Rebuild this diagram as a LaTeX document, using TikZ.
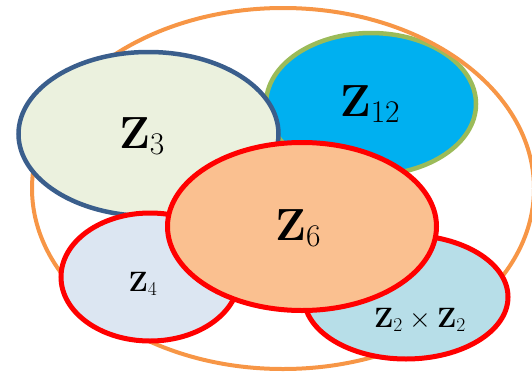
\RequirePackage{fix-cm}
\documentclass[tikz,border=0pt]{standalone}
\usetikzlibrary{shapes.geometric}
\definecolor{outorange}{HTML}{F79646}
\definecolor{zthreefill}{HTML}{EBF1DE}
\definecolor{zthreeline}{HTML}{3A5E8C}
\definecolor{ztwelvefill}{HTML}{00B0F0}
\definecolor{ztwelveline}{HTML}{9BBB59}
\definecolor{zfourfill}{HTML}{DCE6F2}
\definecolor{zkleinfill}{HTML}{B7DEE8}
\definecolor{zsixfill}{HTML}{FAC090}
\definecolor{zred}{HTML}{FF0000}
\tikzset{
  blob/.style={ellipse, inner sep=0pt, outer sep=0pt},
  biglabel/.style={anchor=base, inner sep=0pt, font=\fontsize{45}{54}\selectfont},
  smalllabel/.style={anchor=base, inner sep=0pt, font=\fontsize{28}{34}\selectfont},
}
\begin{document}
\begin{tikzpicture}[x=1pt,y=-1pt]
\useasboundingbox (0,0) rectangle (532,372);
% Z12
\node[blob, draw=ztwelveline, line width=4.5pt, fill=ztwelvefill,
      minimum width=210pt, minimum height=142pt] (z12) at (371,104) {};
% outer orange ellipse
\node[blob, draw=outorange, line width=4pt,
      minimum width=502pt, minimum height=361pt] (outer) at (283,188.5) {};
% Z3
\node[blob, draw=zthreeline, line width=4.5pt, fill=zthreefill,
      minimum width=260pt, minimum height=164pt] (z3) at (148.5,134) {};
% Z4
\node[blob, draw=zred, line width=5pt, fill=zfourfill,
      minimum width=178pt, minimum height=128pt] (z4) at (150,277) {};
% Z2 x Z2
\node[blob, draw=zred, line width=5pt, fill=zkleinfill,
      minimum width=204pt, minimum height=124pt] (zk) at (406,297) {};
% Z6
\node[blob, draw=zred, line width=5pt, fill=zsixfill,
      minimum width=269pt, minimum height=168pt] (z6) at (302,226.5) {};
% labels
\node[biglabel] (l3) at (142,148) {$\mathbf{Z}_3$};
\node[biglabel] (l12) at (370,116) {$\mathbf{Z}_{12}$};
\node[biglabel] (l6) at (298,240) {$\mathbf{Z}_6$};
\node[smalllabel] (l4) at (143,291) {$\mathbf{Z}_4$};
\node[smalllabel] (lk) at (420,327) {$\mathbf{Z}_2\times\mathbf{Z}_2$};
\end{tikzpicture}
\end{document}
